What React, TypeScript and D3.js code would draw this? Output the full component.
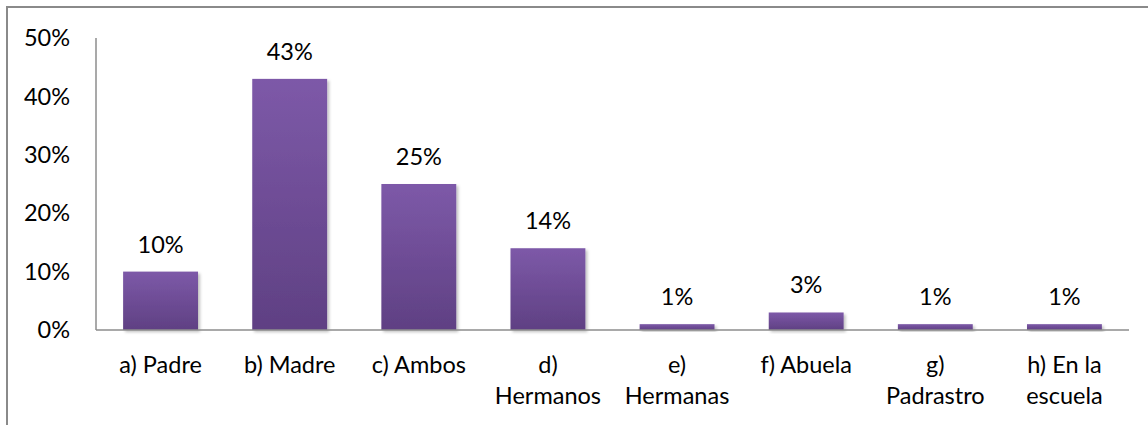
import React, { useEffect, useRef } from 'react';
import * as d3 from 'd3';

// values
const categories = ['a) Padre', 'b) Madre', 'c) Ambos', 'd) Hermanos', 'e) Hermanas', 'f) Abuela', 'g) Padrastro', 'h) En la escuela'];
const categoryLines = [['a) Padre'], ['b) Madre'], ['c) Ambos'], ['d)', 'Hermanos'], ['e)', 'Hermanas'], ['f) Abuela'], ['g)', 'Padrastro'], ['h) En la', 'escuela']];
const values = [10, 43, 25, 14, 1, 3, 1, 1];
const yTicks = [0, 10, 20, 30, 40, 50];

const FONT = 'Lato, "Open Sans", sans-serif';
const FS = 23.5;

const App = () => {
  const svgRef = useRef<SVGSVGElement>(null);

  useEffect(() => {
    const svg = d3.select(svgRef.current);
    svg.selectAll('*').remove();

    const W = 1148, H = 425;
    const left = 96, right = 1129, top = 38, bottom = 330;

    const defs = svg.append('defs');
    const grad = defs.append('linearGradient')
      .attr('id', 'barGrad').attr('x1', 0).attr('y1', 0).attr('x2', 0).attr('y2', 1);
    grad.append('stop').attr('offset', '0%').attr('stop-color', '#7d59a8');
    grad.append('stop').attr('offset', '100%').attr('stop-color', '#5f4083');

    const shadow = defs.append('filter').attr('id', 'barShadow')
      .attr('x', '-20%').attr('y', '-20%').attr('width', '140%').attr('height', '140%');
    shadow.append('feDropShadow')
      .attr('dx', 2).attr('dy', 2).attr('stdDeviation', 1.5)
      .attr('flood-color', '#000').attr('flood-opacity', 0.25);

    svg.append('rect').attr('width', W).attr('height', H).attr('fill', '#fff');

    // outer chart frame
    svg.append('rect')
      .attr('x', 7).attr('y', 7).attr('width', W + 10).attr('height', H + 10)
      .attr('fill', 'none').attr('stroke', '#8a8a8a').attr('stroke-width', 2);

    const x = d3.scaleBand<string>().domain(categories).range([left, right]).paddingInner(0.42).paddingOuter(0.21);
    const y = d3.scaleLinear().domain([0, 50]).range([bottom, top]);

    // bars
    svg.append('g').selectAll('rect')
      .data(values)
      .enter().append('rect')
      .attr('x', (d, i) => x(categories[i])!)
      .attr('y', d => y(d))
      .attr('width', x.bandwidth())
      .attr('height', d => y(0) - y(d))
      .attr('fill', 'url(#barGrad)')
      .attr('filter', 'url(#barShadow)');

    // data labels
    svg.append('g').selectAll('text')
      .data(values)
      .enter().append('text')
      .attr('x', (d, i) => x(categories[i])! + x.bandwidth() / 2)
      .attr('y', d => y(d) - 19)
      .attr('text-anchor', 'middle')
      .attr('font-family', FONT).attr('font-size', FS).attr('fill', '#000')
      .text(d => d + '%');

    // y axis labels
    svg.append('g').selectAll('text')
      .data(yTicks)
      .enter().append('text')
      .attr('x', 70)
      .attr('y', d => y(d))
      .attr('dy', '0.35em')
      .attr('text-anchor', 'end')
      .attr('font-family', FONT).attr('font-size', FS).attr('fill', '#000')
      .text(d => d + '%');

    // axes lines
    svg.append('line')
      .attr('x1', left).attr('x2', left).attr('y1', top).attr('y2', bottom)
      .attr('stroke', '#8c8c8c').attr('stroke-width', 1.5);
    svg.append('line')
      .attr('x1', left).attr('x2', right).attr('y1', bottom).attr('y2', bottom)
      .attr('stroke', '#8c8c8c').attr('stroke-width', 1.5);

    // category labels
    const cat = svg.append('g').selectAll('text')
      .data(categories)
      .enter().append('text')
      .attr('x', d => x(d)! + x.bandwidth() / 2)
      .attr('y', 365)
      .attr('text-anchor', 'middle')
      .attr('font-family', FONT).attr('font-size', FS).attr('fill', '#000');
    cat.each(function (d, i) {
      const t = d3.select(this);
      categoryLines[i].forEach((line, j) => {
        t.append('tspan')
          .attr('x', x(d)! + x.bandwidth() / 2)
          .attr('y', 365 + j * 31)
          .attr('dy', '0.35em')
          .text(line);
      });
    });
  }, []);

  return (
    <svg ref={svgRef} width={1148} height={425}
      style={{ position: 'absolute', left: 0, top: 0, display: 'block' }} />
  );
};

export default App;
